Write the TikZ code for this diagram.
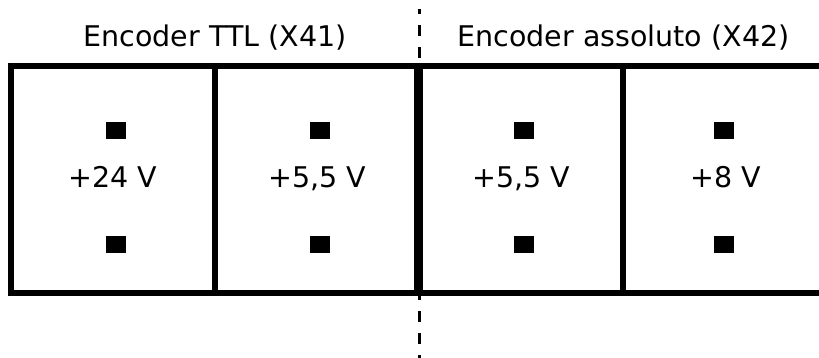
\documentclass[tikz,border=0pt]{standalone}
\usepackage{fontspec}
\setmainfont{DejaVu Sans}
\begin{document}
\begin{tikzpicture}[x=1pt,y=-1pt]
\tikzset{
  thin frame/.style={line width=6pt},
  thick frame/.style={line width=9pt},
  sepline/.style={line width=3pt, dash pattern=on 11pt off 11pt, dash phase=6pt},
  pin/.style={fill=black, minimum width=20pt, minimum height=17pt, inner sep=0pt, draw=none},
  lbl/.style={font=\fontsize{28.5}{30}\selectfont, inner sep=0pt, anchor=base},
}
\useasboundingbox (0,0) rectangle (819,358);

% separator
\coordinate (st) at (419.5,9);
\coordinate (sb) at (419.5,358);
\draw[sepline] (st) -- (sb);

% frame coordinates
\coordinate (tl) at (8,66);  \coordinate (tr) at (819,66);
\coordinate (bl) at (8,293); \coordinate (br) at (819,293);
\coordinate (l1) at (11,63);  \coordinate (l2) at (11,296);
\coordinate (a1) at (215,66); \coordinate (a2) at (215,293);
\coordinate (m1) at (418.5,66); \coordinate (m2) at (418.5,293);
\coordinate (c1) at (623,66); \coordinate (c2) at (623,293);

\draw[thin frame] (tl) -- (tr);
\draw[thin frame] (bl) -- (br);
\draw[thin frame] (l1) -- (l2);
\draw[thin frame] (a1) -- (a2);
\draw[thick frame] (m1) -- (m2);
\draw[thin frame] (c1) -- (c2);

% titles
\node[lbl] (t1) at (215,47) {Encoder TTL (X41)};
\node[lbl] (t2) at (623.5,47) {Encoder assoluto (X42)};

% voltage labels
\node[lbl] (v1) at (113,188) {+24 V};
\node[lbl] (v2) at (317,188) {+5,5 V};
\node[lbl] (v3) at (521,188) {+5,5 V};
\node[lbl] (v4) at (726,188) {+8 V};

% pins
\node[pin] (p1a) at (116,131) {};
\node[pin] (p1b) at (116,244.5) {};
\node[pin] (p2a) at (320,131) {};
\node[pin] (p2b) at (320,244.5) {};
\node[pin] (p3a) at (524,131) {};
\node[pin] (p3b) at (524,244.5) {};
\node[pin] (p4a) at (724,131) {};
\node[pin] (p4b) at (724,244.5) {};
\end{tikzpicture}
\end{document}
